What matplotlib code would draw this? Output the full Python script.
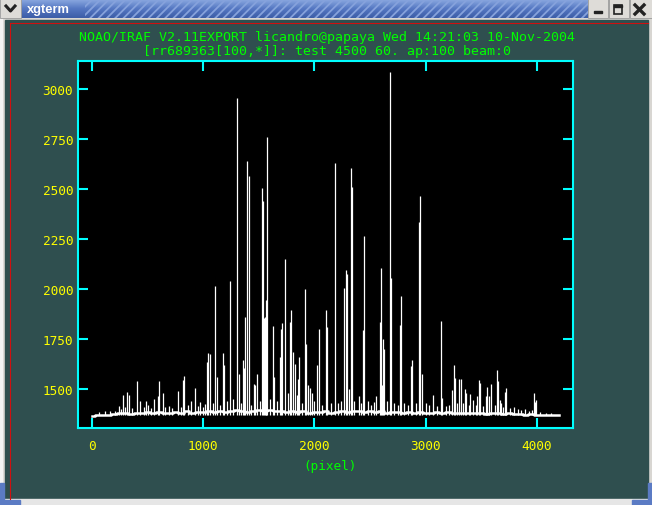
import numpy as np
import matplotlib
matplotlib.use("Agg")
import matplotlib.pyplot as plt
from matplotlib.patches import Rectangle

# emission lines: pixel, peak counts
line_pix = [60, 120, 160, 210, 240, 262, 282, 300, 317, 335, 360, 407, 435, 470, 488,
            500, 530, 560, 596, 606, 641, 660, 695, 720, 774, 800, 821, 830, 860, 893,
            930, 955, 974, 1000, 1019, 1037, 1046, 1064, 1085, 1109, 1127, 1150, 1181,
            1190, 1215, 1244, 1270, 1307, 1322, 1340, 1361, 1370, 1379, 1397, 1409,
            1430, 1460, 1468, 1487, 1510, 1532, 1541, 1548, 1556, 1564, 1568, 1577,
            1600, 1631, 1640, 1660, 1693, 1702, 1711, 1739, 1760, 1784, 1793, 1811,
            1823, 1840, 1856, 1865, 1890, 1918, 1927, 1945, 1965, 1975, 2000, 2026,
            2044, 2070, 2107, 2116, 2150, 2188, 2210, 2240, 2269, 2287, 2296, 2314,
            2332, 2339, 2360, 2397, 2420, 2441, 2450, 2480, 2510, 2540, 2555, 2593,
            2602, 2611, 2620, 2629, 2650, 2680, 2689, 2720, 2750, 2773, 2782, 2810,
            2840, 2872, 2881, 2910, 2944, 2953, 2971, 3000, 3030, 3070, 3100, 3142,
            3151, 3180, 3210, 3241, 3260, 3268, 3285, 3305, 3315, 3340, 3358, 3367,
            3390, 3403, 3430, 3450, 3466, 3484, 3493, 3520, 3546, 3555, 3573, 3591,
            3620, 3645, 3654, 3672, 3681, 3700, 3718, 3727, 3760, 3798, 3830, 3860,
            3897, 3930, 3960, 3978, 3987, 3996, 4030, 4080, 4130]
line_val = [1385, 1392, 1390, 1390, 1415, 1400, 1470, 1410, 1483, 1470, 1405, 1540, 1440,
            1410, 1440, 1420, 1405, 1450, 1465, 1540, 1480, 1410, 1415, 1405, 1490,
            1410, 1545, 1565, 1420, 1440, 1505, 1415, 1435, 1410, 1425, 1635, 1678,
            1673, 1430, 2015, 1560, 1420, 1680, 1620, 1440, 2040, 1450, 2953, 1575,
            1430, 1645, 1607, 1860, 2640, 2565, 1420, 1527, 1520, 1577, 1440, 2505,
            2440, 1855, 1860, 1858, 1945, 2760, 1450, 1815, 1562, 1440, 1662, 1802,
            1832, 2150, 1480, 1835, 1895, 1685, 1627, 1470, 1552, 1662, 1430, 2000,
            1725, 1520, 1505, 1480, 1440, 1620, 1800, 1420, 1895, 1810, 1430, 2630,
            1430, 1440, 2005, 2095, 2073, 1500, 2605, 2510, 1440, 1465, 1430, 1797,
            2265, 1440, 1420, 1435, 1465, 1835, 2105, 1520, 1750, 1700, 1440, 3085,
            2055, 1430, 1420, 1820, 1965, 1430, 1420, 1615, 1645, 1430, 2335, 2465,
            1575, 1430, 1420, 1470, 1415, 1840, 1455, 1415, 1420, 1495, 1620, 1555,
            1430, 1550, 1550, 1430, 1500, 1480, 1420, 1475, 1445, 1420, 1465, 1545,
            1530, 1415, 1465, 1510, 1465, 1525, 1420, 1595, 1540, 1445, 1430, 1410,
            1485, 1505, 1405, 1410, 1400, 1395, 1400, 1392, 1395, 1480, 1435, 1445,
            1385, 1380, 1382]

# continuum level every 50 pixels, 0..4200
base_val = [1366, 1368, 1369, 1372, 1374, 1378, 1380, 1376, 1382, 1378, 1384, 1380,
            1386, 1380, 1378, 1384, 1380, 1388, 1382, 1386, 1384, 1390, 1386, 1392,
            1384, 1388, 1394, 1390, 1386, 1392, 1396, 1390, 1394, 1388, 1392, 1386,
            1390, 1384, 1388, 1382, 1386, 1384, 1388, 1382, 1386, 1390, 1384, 1388,
            1392, 1386, 1390, 1384, 1388, 1382, 1386, 1384, 1380, 1386, 1382, 1384,
            1380, 1382, 1386, 1380, 1384, 1380, 1382, 1378, 1382, 1378, 1380, 1376,
            1380, 1378, 1376, 1378, 1374, 1376, 1372, 1374, 1370, 1372, 1368, 1370,
            1368]
base_pix = np.arange(len(base_val)) * 50

xticks = [0, 1000, 2000, 3000, 4000]
yticks = [1500, 1750, 2000, 2250, 2500, 2750, 3000]
title1 = "NOAO/IRAF V2.11EXPORT licandro@papaya Wed 14:21:03 10-Nov-2004"
title2 = "[rr689363[100,*]]: test 4500 60. ap:100 beam:0"

W, H = 652, 506
bg = "#2f4f4f"
fig = plt.figure(figsize=(W / 100, H / 100), dpi=100)

# window chrome, drawn in screen pixels
ch = fig.add_axes([0, 0, 1, 1], zorder=0)
ch.axis("off")
ch.add_patch(Rectangle((0, 0), W, H, color="#d8d6d2"))
ch.add_patch(Rectangle((0, 0), 1.5, H, color="#f4f4f4"))
ch.add_patch(Rectangle((5, 21), W - 9, 479, color=bg))
grad = np.linspace(0, 1, 20).reshape(-1, 1)
cmap = matplotlib.colors.LinearSegmentedColormap.from_list("tb", ["#8aa8e0", "#5577c2", "#3d5ea8"])
ch.imshow(grad, cmap=cmap, extent=(21, 588, 19, 0), aspect="auto", zorder=1)
plt.rcParams["hatch.linewidth"] = 1.3
ch.add_patch(Rectangle((85, 0), 503, 19, fill=False, hatch="////",
                       edgecolor="#86a2dc", lw=0, zorder=2))
ch.text(27, 10, "xgterm", color="white", fontsize=9.3, fontweight="bold",
        family="Liberation Sans", va="center", ha="left", zorder=3)
# buttons
for x0, x1 in [(0, 21), (588, 608), (609, 629), (630, 652)]:
    ch.add_patch(Rectangle((x0, 0), x1 - x0, 19, facecolor="#dedcd8",
                           edgecolor="#9a9a9a", lw=0.6, zorder=2))
ch.plot([6, 10.5, 15], [7, 12, 7], color="#222222", lw=2.2, zorder=3)
ch.add_patch(Rectangle((594, 11.5), 8, 2.5, color="#222222", zorder=3))
ch.add_patch(Rectangle((614, 6), 8, 9, fill=False, edgecolor="#222222", lw=1.2, zorder=3))
ch.add_patch(Rectangle((614, 6), 8, 2, color="#222222", zorder=3))
ch.plot([635, 644], [6, 15], color="#222222", lw=2.4, zorder=3)
ch.plot([635, 644], [15, 6], color="#222222", lw=2.4, zorder=3)
# red focus lines
ch.plot([9.5, 648], [23.5, 23.5], color="#d01010", lw=0.8)
ch.plot([9.5, 9.5], [23.5, 500], color="#d01010", lw=0.8)
# bottom border with blue corners
ch.add_patch(Rectangle((0, 500), W, 6, color="#e6e6e6"))
ch.add_patch(Rectangle((0, 484), 4, 22, color="#5b7bc4"))
ch.add_patch(Rectangle((0, 501), 20, 5, color="#5b7bc4"))
ch.add_patch(Rectangle((648, 484), 4, 22, color="#5b7bc4"))
ch.add_patch(Rectangle((632, 501), 20, 5, color="#5b7bc4"))
ch.set_xlim(0, W)
ch.set_ylim(H, 0)

# the plot itself
ax = fig.add_axes([78 / W, 1 - 428.7 / H, (573 - 78) / W, (428.7 - 62) / H], zorder=1)
ax.set_facecolor("black")
ax.step(base_pix, base_val, where="mid", color="white", lw=1.8)
ax.vlines(line_pix, 1372, line_val, color="white", lw=0.9)
ax.set_xlim(-126, 4326)
ax.set_ylim(1306.5, 3140)
ax.set_xticks(xticks)
ax.set_yticks(yticks)
ax.minorticks_off()
for s in ax.spines.values():
    s.set_color("#00ffff")
    s.set_linewidth(1.5)
ax.tick_params(direction="in", length=7.5, width=1.5, color="#00ffff",
               labelcolor="#ffff00", top=True, right=True, labelsize=9.2)
ax.tick_params(axis="y", pad=3.6)
ax.tick_params(axis="x", pad=8.3)
for lab in ax.get_xticklabels() + ax.get_yticklabels():
    lab.set_family("DejaVu Sans Mono")

fig.text(326.5 / W, 1 - 37 / H, title1, color="#00ff00", fontsize=9.5,
         family="DejaVu Sans Mono", ha="center", va="center")
fig.text(326.5 / W, 1 - 51 / H, title2, color="#00ff00", fontsize=9.5,
         family="DejaVu Sans Mono", ha="center", va="center")
fig.text(330 / W, 1 - 466.5 / H, "(pixel)", color="#00ff00", fontsize=9.2,
         family="DejaVu Sans Mono", ha="center", va="center")

fig.savefig("out.png", dpi=100, facecolor=bg)
